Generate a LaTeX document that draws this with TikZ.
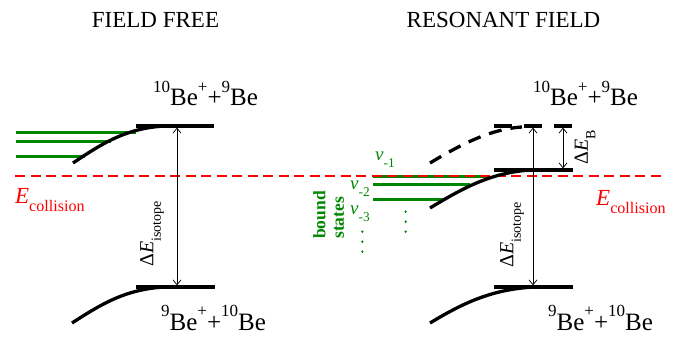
\documentclass[tikz,border=0pt]{standalone}
\usepackage{fontspec}
\usepackage{graphicx}
\setmainfont{Liberation Serif}
\usetikzlibrary{arrows.meta}
\definecolor{grn}{RGB}{0,135,0}
\definecolor{rd}{RGB}{255,0,0}
\newcommand\myhi[1]{\raisebox{0.55em}{\scalebox{0.68}{#1}}}
\newcommand\mylo[1]{\raisebox{-0.38em}{\scalebox{0.7}{#1}}}
\begin{document}
\begin{tikzpicture}[x=1pt,y=-1pt,
  level/.style={line width=3.3pt, black},
  dlevel/.style={line width=3.3pt, black, dash pattern=on 18pt off 12pt},
  dcurve/.style={line width=3.3pt, black, dash pattern=on 13pt off 9pt},
  gline/.style={line width=3pt, grn},
  ecoll/.style={rd, dash pattern=on 10pt off 5.5pt, line width=1.5pt},
  dimarrow/.style={line width=0.7pt, {Straight Barb[length=5pt,width=8pt]}-{Straight Barb[length=5pt,width=8pt]}},
  title/.style={font=\fontsize{23}{26}\selectfont, inner sep=0pt},
  belab/.style={font=\fontsize{25}{28}\selectfont, inner sep=0pt, anchor=base west},
  elab/.style={font=\fontsize{23}{26}\selectfont, text=rd, inner sep=0pt, anchor=base west},
  dlab/.style={font=\fontsize{20}{23}\selectfont, inner sep=0pt, rotate=90},
  vlab/.style={font=\fontsize{19}{22}\selectfont, text=grn, inner sep=0pt, anchor=base west},
  gdot/.style={circle, fill=grn, inner sep=0pt, minimum size=2.6pt},
  bslab/.style={font=\fontsize{17.5}{18.5}\bfseries\selectfont, text=grn, inner sep=0pt, rotate=90, align=left}
]
\useasboundingbox (0,0) rectangle (683,337);

% titles
\node[title] (t1) at (155.5,20) {FIELD FREE};
\node[title] (t2) at (503.5,20) {RESONANT FIELD};

% ---------- left panel ----------
\coordinate (lg1a) at (16,132); \coordinate (lg1b) at (136,132);
\coordinate (lg2a) at (16,141); \coordinate (lg2b) at (111,141);
\coordinate (lg3a) at (16,156); \coordinate (lg3b) at (85,156);
\draw[gline] (lg1a) -- (lg1b);
\draw[gline] (lg2a) -- (lg2b);
\draw[gline] (lg3a) -- (lg3b);

% red dashed collision energy
\coordinate (ca) at (15,176); \coordinate (cb) at (662,176);

% right green lines (drawn before red)
\coordinate (rg1a) at (373,176); \coordinate (rg1b) at (490,176);
\coordinate (rg2a) at (373,184.5); \coordinate (rg2b) at (470,184.5);
\coordinate (rg3a) at (373,199); \coordinate (rg3b) at (444,199);
\draw[gline] (rg1a) -- (rg1b);
\draw[gline] (rg2a) -- (rg2b);
\draw[gline] (rg3a) -- (rg3b);

\draw[ecoll] (ca) -- (cb);

% left levels
\coordinate (lta) at (136,126); \coordinate (ltb) at (214,126);
\coordinate (lba) at (136,287); \coordinate (lbb) at (215,287);
\draw[level] (lta) -- (ltb);
\draw[level] (lba) -- (lbb);
\coordinate (lc1) at (73,163); \coordinate (lc2) at (165,126);
\draw[level] (lc1) .. controls (100,145) and (125,128) .. (lc2);
\coordinate (lc3) at (72,323); \coordinate (lc4) at (165,287);
\draw[level] (lc3) .. controls (100,305) and (125,289) .. (lc4);
\coordinate (la1) at (177,127.6); \coordinate (la2) at (177,285.4);
\draw[dimarrow] (la1) -- (la2);

% right levels
\coordinate (rta) at (494,126); \coordinate (rtb) at (573,126);
\draw[dlevel] (rta) -- (rtb);
\coordinate (rma) at (494,170); \coordinate (rmb) at (573,170);
\draw[level] (rma) -- (rmb);
\coordinate (rba) at (494,287); \coordinate (rbb) at (573,287);
\draw[level] (rba) -- (rbb);
\coordinate (rc1) at (430,163); \coordinate (rc2) at (522,127);
\draw[dcurve] (rc1) .. controls (460,145) and (490,129) .. (rc2);
\coordinate (rc3) at (430,208); \coordinate (rc4) at (532,170);
\draw[level] (rc3) .. controls (460,190) and (490,172) .. (rc4);
\coordinate (rc5) at (430,323); \coordinate (rc6) at (535,287);
\draw[level] (rc5) .. controls (460,305) and (490,289) .. (rc6);
\coordinate (ra1) at (533,127.6); \coordinate (ra2) at (533,285.4);
\draw[dimarrow] (ra1) -- (ra2);
\coordinate (rb1) at (563,127.6); \coordinate (rb2) at (563,168.4);
\draw[dimarrow] (rb1) -- (rb2);

% species labels
\node[belab] (l1) at (153,106) {\myhi{10}Be\myhi{+}+\myhi{9}Be};
\node[belab] (l2) at (161,330) {\myhi{9}Be\myhi{+}+\myhi{10}Be};
\node[belab] (l3) at (533,106) {\myhi{10}Be\myhi{+}+\myhi{9}Be};
\node[belab] (l4) at (548,330) {\myhi{9}Be\myhi{+}+\myhi{10}Be};

% energy labels
\node[elab] (e1) at (15,203) {\textit{E}\mylo{collision}};
\node[elab] (e2) at (596,205) {\textit{E}\mylo{collision}};
\node[dlab] (d1) at (152,234) {Δ\textit{E}\mylo{isotope}};
\node[dlab] (d2) at (512,235) {Δ\textit{E}\mylo{isotope}};
\node[dlab] (d3) at (585,147) {Δ\textit{E}\mylo{B}};

% bound states
\node[vlab] (v1) at (375,160.7) {\textit{v}\mylo{-1}};
\node[vlab] (v2) at (350,189) {\textit{v}\mylo{-2}};
\node[vlab] (v3) at (350,214) {\textit{v}\mylo{-3}};
\node[gdot] (p1) at (405.7,211.7) {};
\node[gdot] (p2) at (405.7,221.7) {};
\node[gdot] (p3) at (405.7,231.7) {};
\node[gdot] (p4) at (362.3,231.7) {};
\node[gdot] (p5) at (362.3,241.7) {};
\node[gdot] (p6) at (362.3,251.7) {};
\node[bslab, anchor=north west] (bs) at (313,239) {bound\\states};
\end{tikzpicture}
\end{document}
